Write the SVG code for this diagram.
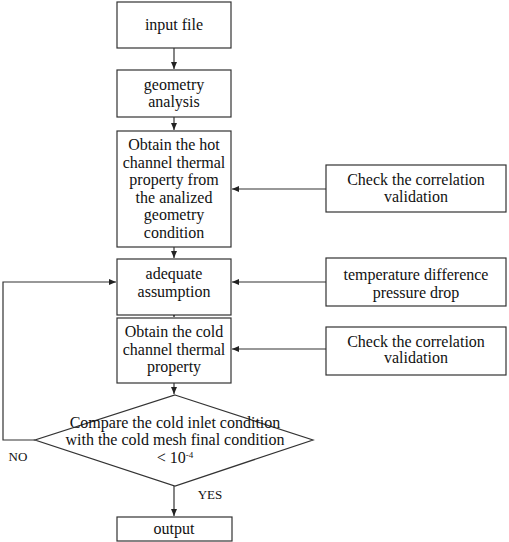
<svg xmlns="http://www.w3.org/2000/svg" width="509" height="542" viewBox="0 0 509 542">
<style>
.b{fill:#fff;stroke:#333;stroke-width:1.2}
.t{font-family:"Liberation Serif","Times New Roman",serif;font-size:16px;fill:#111;text-anchor:middle}
.c{fill:none;stroke:#333;stroke-width:1.2}
</style>
<defs>
<marker id="a" markerWidth="8" markerHeight="8" refX="7" refY="4" orient="auto" markerUnits="userSpaceOnUse">
<path d="M0,1 L7,4 L0,7 Z" fill="#222"/>
</marker>
</defs>
<rect width="509" height="542" fill="#fff"/>
<g id="connectors">
<path class="c" d="M174,48 V69" marker-end="url(#a)"/>
<path class="c" d="M174,117 V130" marker-end="url(#a)"/>
<path class="c" d="M174,247 V258" marker-end="url(#a)"/>
<path class="c" d="M174,315 V317" marker-end="url(#a)"/>
<path class="c" d="M174,383 V394" marker-end="url(#a)"/>
<path class="c" d="M174,486 V516" marker-end="url(#a)"/>
<path class="c" d="M326,189 H232" marker-end="url(#a)"/>
<path class="c" d="M326,282 H232" marker-end="url(#a)"/>
<path class="c" d="M326,349 H232" marker-end="url(#a)"/>
<path class="c" d="M35,440 H3 V282 H116" marker-end="url(#a)"/>
<text class="t" x="18" y="461" style="font-size:13px">NO</text>
<text class="t" x="210" y="499" style="font-size:13px">YES</text>
</g>
<g id="input">
<rect class="b" x="117" y="2" width="114" height="46"/>
<text class="t" x="174" y="30">input file</text>
</g>
<g id="geometry">
<rect class="b" x="117" y="70" width="114" height="47"/>
<text class="t" x="174" y="90">geometry</text>
<text class="t" x="174" y="107">analysis</text>
</g>
<g id="hot">
<rect class="b" x="117" y="131" width="114" height="116"/>
<text class="t" x="174" y="150">Obtain the hot</text>
<text class="t" x="174" y="167.6">channel thermal</text>
<text class="t" x="174" y="185.2">property from</text>
<text class="t" x="174" y="202.8">the analized</text>
<text class="t" x="174" y="220.4">geometry</text>
<text class="t" x="174" y="238">condition</text>
</g>
<g id="adequate">
<rect class="b" x="117" y="259" width="114" height="56"/>
<text class="t" x="174" y="279">adequate</text>
<text class="t" x="174" y="297">assumption</text>
</g>
<g id="cold">
<rect class="b" x="117" y="318" width="114" height="65"/>
<text class="t" x="174" y="337">Obtain the cold</text>
<text class="t" x="174" y="355">channel thermal</text>
<text class="t" x="174" y="372">property</text>
</g>
<g id="check1">
<rect class="b" x="326" y="165" width="180" height="47"/>
<text class="t" x="416" y="185">Check the correlation</text>
<text class="t" x="416" y="202">validation</text>
</g>
<g id="temp">
<rect class="b" x="326" y="258" width="180" height="48"/>
<text class="t" x="416" y="280">temperature difference</text>
<text class="t" x="416" y="298">pressure drop</text>
</g>
<g id="check2">
<rect class="b" x="326" y="327" width="180" height="48"/>
<text class="t" x="416" y="347">Check the correlation</text>
<text class="t" x="416" y="363">validation</text>
</g>
<g id="compare">
<polygon class="b" points="175,395 313,440 175,486 35,440"/>
<text class="t" x="175" y="428">Compare the cold inlet condition</text>
<text class="t" x="175" y="445">with the cold mesh final condition</text>
<text class="t" x="175" y="463">&lt; 10<tspan dy="-5" style="font-size:9px">-4</tspan></text>
</g>
<g id="output">
<rect class="b" x="117" y="517" width="115" height="24"/>
<text class="t" x="174" y="534">output</text>
</g>
</svg>
